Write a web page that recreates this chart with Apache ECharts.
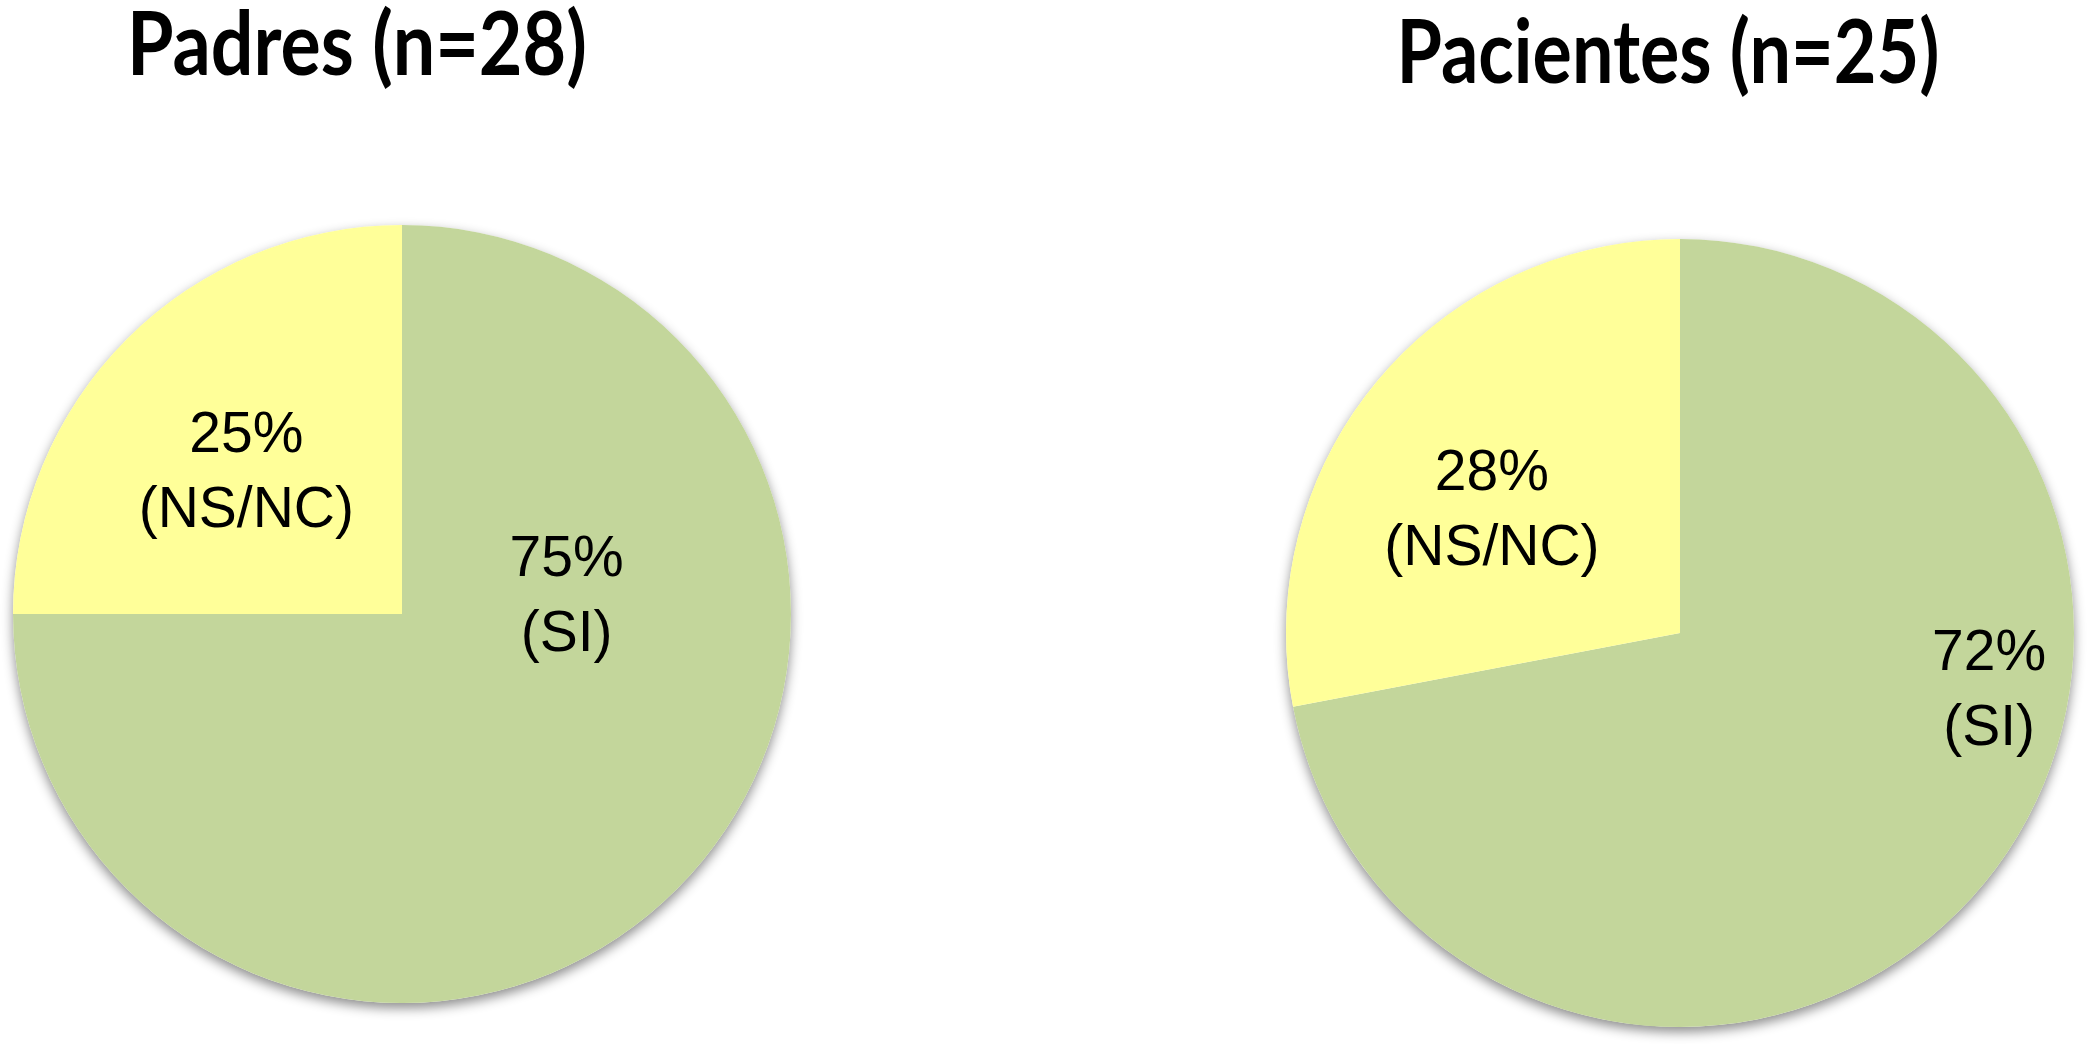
<!DOCTYPE html>
<html>
<head>
<meta charset="utf-8">
<script src="https://cdn.jsdelivr.net/npm/echarts@6/dist/echarts.min.js"></script>
<style>
html,body{margin:0;padding:0;background:#fff;}
#chart{width:2091px;height:1044px;}
</style>
</head>
<body>
<div id="chart"></div>
<script>
// ---- data ----
const categories = ['SI', 'NS/NC'];
const padresValues = [75, 25];
const pacientesValues = [72, 28];
const titles = ['Padres (n=28)', 'Pacientes (n=25)'];

// ---- styles ----
const colors = { 'SI': '#C3D69B', 'NS/NC': '#FFFF99' };
const titleFontFamily = "Lato, 'Liberation Sans', sans-serif";
const titleFont = "bold 88px " + titleFontFamily;
const labelFont = "'Liberation Sans', Arial, sans-serif";

const pies = [
  { center: [402, 614], radius: 389, values: padresValues,
    offsets: { 'SI': [25, -156], 'NS/NC': [-16, -1] },
    title: { x: 357, y: 3, width: 460 } },
  { center: [1680, 633], radius: 394, values: pacientesValues,
    offsets: { 'SI': [155, -69], 'NS/NC': [-34, 6] },
    title: { x: 1668, y: 11, width: 543 } }
];

// measure text to condense title (Calibri-like narrow look)
const mctx = document.createElement('canvas').getContext('2d');
mctx.font = titleFont;
function fitScale(text, w) { return w / mctx.measureText(text).width; }

function buildData(p) {
  return categories.map((c, i) => ({
    name: c,
    value: p.values[i],
    itemStyle: { color: colors[c] },
    label: { offset: p.offsets[c] }
  }));
}

const series = [];
const graphics = [];
pies.forEach((p, k) => {
  series.push({
    type: 'pie', silent: true, z: 1,
    center: p.center, radius: p.radius,
    label: { show: false }, labelLine: { show: false },
    itemStyle: { color: '#ffffff', shadowColor: 'rgba(0,0,0,0.45)', shadowBlur: 12, shadowOffsetY: 5 },
    data: [{ value: 1, name: '' }],
    animation: false
  });
  series.push({
    type: 'pie', z: 2,
    center: p.center, radius: p.radius,
    startAngle: 90, clockwise: true,
    animation: false,
    avoidLabelOverlap: false,
    itemStyle: { borderWidth: 0 },
    label: {
      show: true, position: 'inside',
      formatter: (d) => d.value + '%\n(' + d.name + ')',
      color: '#000', fontFamily: labelFont, fontSize: 57, lineHeight: 75, align: 'center'
    },
    labelLine: { show: false },
    emphasis: { disabled: true },
    data: buildData(p)
  });
  graphics.push({
    type: 'text',
    x: p.title.x, y: p.title.y,
    scaleX: fitScale(titles[k], p.title.width),
    style: {
      text: titles[k], font: titleFont, fill: '#000',
      textAlign: 'center', textVerticalAlign: 'top'
    }
  });
});

const chart = echarts.init(document.getElementById('chart'), null, { renderer: 'canvas' });
chart.setOption({
  backgroundColor: '#ffffff',
  graphic: graphics,
  series: series
});
</script>
</body>
</html>
